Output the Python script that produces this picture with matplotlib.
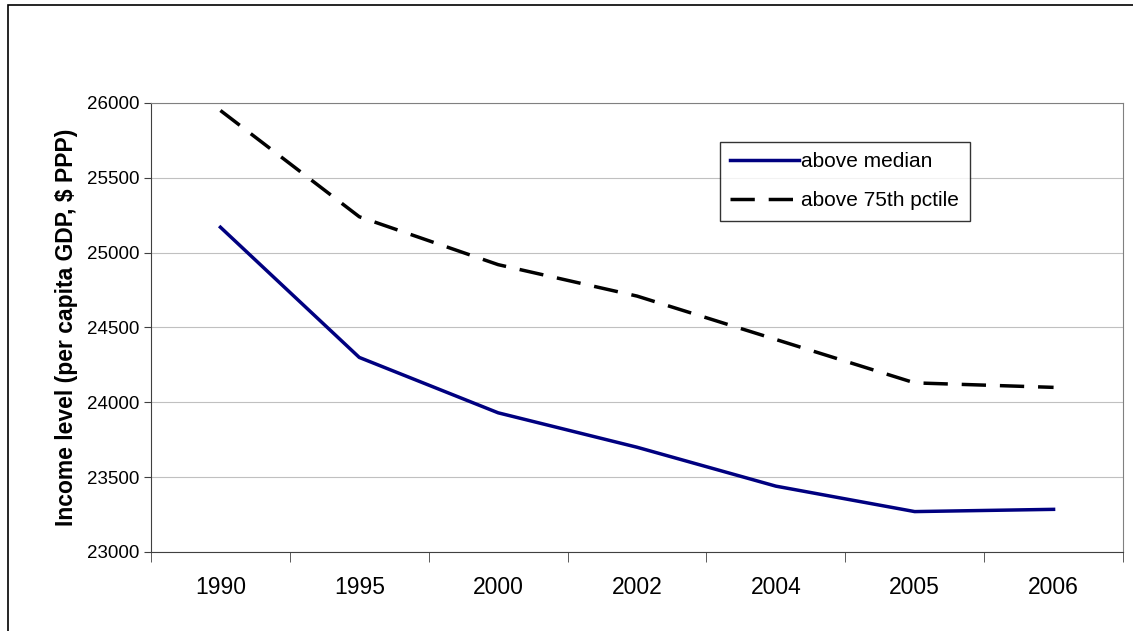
import numpy as np
import matplotlib.pyplot as plt

years = ["1990", "1995", "2000", "2002", "2004", "2005", "2006"]
above_median = [25170, 24300, 23930, 23700, 23440, 23270, 23285]
above_75th = [25950, 25240, 24920, 24710, 24420, 24130, 24100]

plt.rcParams['font.family'] = ['Liberation Sans', 'DejaVu Sans']
W, H = 1133, 631
fig = plt.figure(figsize=(W / 100, H / 100), dpi=100)
fig.patches.append(plt.Rectangle((8 / W, -0.05), 1.2, 1 - 5 / H + 0.05, transform=fig.transFigure,
                                 fill=False, edgecolor='black', linewidth=1.2))
ax = fig.add_axes([151 / W, 1 - 552 / H, (1123 - 151) / W, (552 - 103) / H])

x = np.arange(len(years))
ax.plot(x, above_median, color='#000080', linewidth=2.5, label='above median')
ax.plot(x, above_75th, color='black', linewidth=2.5, dashes=(7, 4), label='above 75th pctile')

ax.set_xlim(-0.5, len(years) - 0.5)
ax.set_ylim(23000, 26000)
ax.set_yticks(range(23000, 26001, 500))
ax.set_xticks(x)
ax.set_xticklabels(years, fontsize=16.5)
ax.set_xticks(np.arange(-0.5, len(years), 1), minor=True)
ax.tick_params(axis='x', which='major', length=0, pad=17)
ax.tick_params(axis='x', which='minor', length=7, direction='out', color='#404040')
ax.tick_params(axis='y', labelsize=13.5, direction='out', length=5, color='#404040')
ax.yaxis.grid(True, color='#c0c0c0', linewidth=0.8)
ax.set_axisbelow(True)
for s in ax.spines.values():
    s.set_color('#808080')
ax.spines['left'].set_color('#404040')
ax.spines['bottom'].set_color('#404040')
ax.set_ylabel('Income level (per capita GDP, $ PPP)', fontsize=16.5, fontweight='bold', labelpad=6)

leg = ax.legend(loc='upper left', bbox_to_anchor=((720 - 151) / 972, (552 - 142) / 449),
                fontsize=15, frameon=True, fancybox=False, edgecolor='black', handlelength=3.3,
                handletextpad=0.1, borderpad=0.5, labelspacing=0.95, borderaxespad=0)
leg.get_frame().set_linewidth(1)

fig.savefig('out.png', dpi=100)
